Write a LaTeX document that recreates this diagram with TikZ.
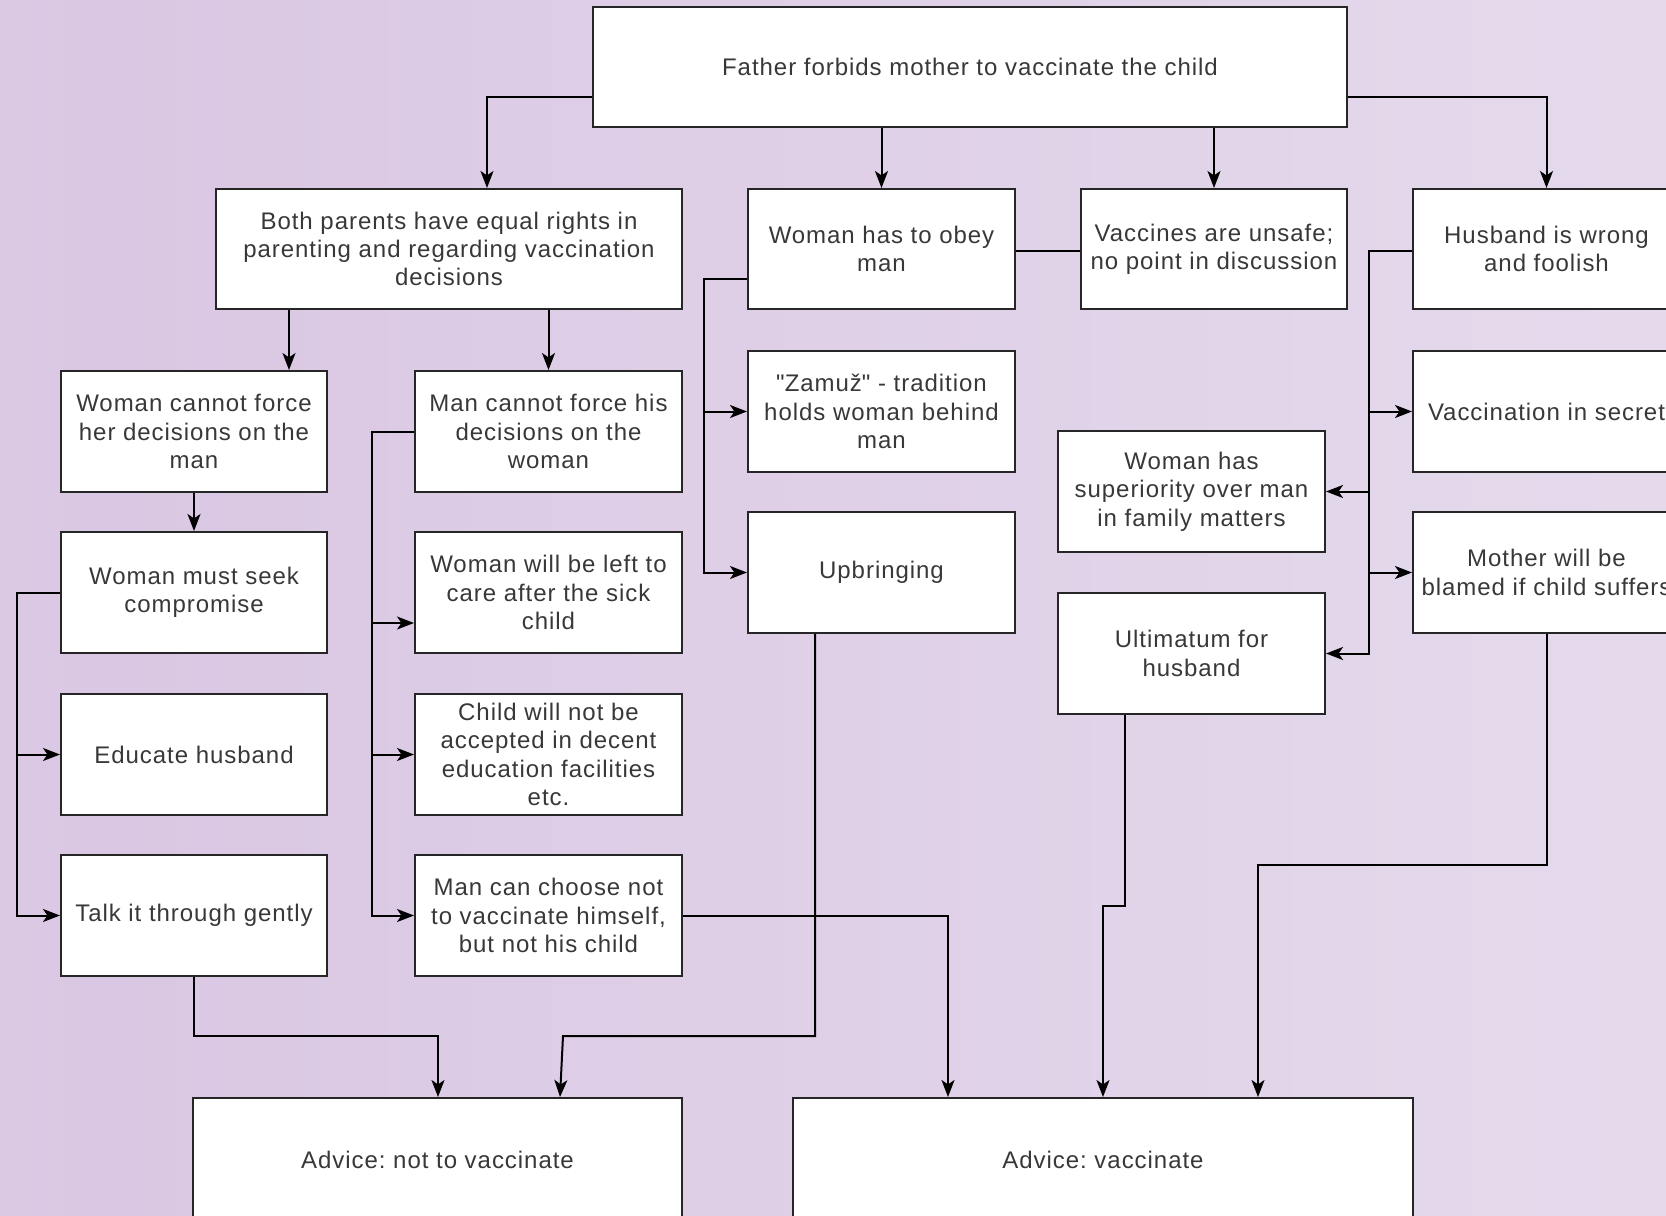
\documentclass[tikz,border=0pt]{standalone}
\usepackage{fontspec}
\setmainfont{Liberation Sans}[LetterSpace=4]
\newfontfamily\plainquote{Liberation Sans}[LetterSpace=4]
\usetikzlibrary{arrows.meta}
\definecolor{bgA}{HTML}{E7DCEE}
\definecolor{bgB}{HTML}{DAC7E3}
\definecolor{bgC}{HTML}{E1D4E9}
\definecolor{bgD}{HTML}{ECE4F2}
\definecolor{txt}{HTML}{383838}
\pgfdeclarehorizontalshading{bgshade}{100bp}{color(0bp)=(bgA); color(28bp)=(bgB); color(60bp)=(bgC); color(100bp)=(bgD)}
\newcommand\bx[6]{\node[box, minimum width={(#4-#2)*0.5pt}, minimum height={(#5-#3)*0.5pt}] (#1) at ({(#2+#4)/2},{(#3+#5)/2}) {#6};}
\begin{document}
\frenchspacing
\begin{tikzpicture}[x=0.5pt,y=-0.5pt,
  box/.style={draw=black!85, line width=1pt, fill=white, inner sep=0pt, align=center, text=txt,
    font=\fontsize{12pt}{14.2pt}\selectfont},
  arr/.style={line width=1pt, -{Stealth[length=8.5pt,width=6.5pt,inset=2.2pt]}},
  ln/.style={line width=1pt}]
\useasboundingbox (0,0) rectangle (1666,1216);
\clip (0,0) rectangle (1666,1216);
\shade[shading=bgshade] (0,0) rectangle (1666,1216);

% nodes
\bx{top}{593}{7}{1347}{127}{Father forbids mother to vaccinate the child}
\bx{both}{216}{189}{682}{309}{Both parents have equal rights in\\parenting and regarding vaccination\\decisions}
\bx{obey}{748}{189}{1015}{309}{Woman has to obey\\man}
\bx{unsafe}{1081}{189}{1347}{309}{Vaccines are unsafe;\\no point in discussion}
\bx{husband}{1413}{189}{1680}{309}{Husband is wrong\\and foolish}
\bx{wcannot}{61}{371}{327}{492}{Woman cannot force\\her decisions on the\\man}
\bx{mcannot}{415}{371}{682}{492}{Man cannot force his\\decisions on the\\woman}
\bx{zamuz}{748}{351}{1015}{472}{{\plainquote"}Zamuž{\plainquote"} - tradition\\holds woman behind\\man}
\bx{secret}{1413}{351}{1680}{472}{Vaccination in secret}
\bx{superior}{1058}{431}{1325}{552}{Woman has\\superiority over man\\in family matters}
\bx{upbring}{748}{512}{1015}{633}{Upbringing}
\bx{blamed}{1413}{512}{1680}{633}{Mother will be\\blamed if child suffers}
\bx{seek}{61}{532}{327}{653}{Woman must seek\\compromise}
\bx{leftcare}{415}{532}{682}{653}{Woman will be left to\\care after the sick\\child}
\bx{ultimatum}{1058}{593}{1325}{714}{Ultimatum for\\husband}
\bx{educate}{61}{694}{327}{815}{Educate husband}
\bx{accepted}{415}{694}{682}{815}{Child will not be\\accepted in decent\\education facilities\\etc.}
\bx{talk}{61}{855}{327}{976}{Talk it through gently}
\bx{choose}{415}{855}{682}{976}{Man can choose not\\to vaccinate himself,\\but not his child}
\bx{advnot}{193}{1098}{682}{1222}{Advice: not to vaccinate}
\bx{advvac}{793}{1098}{1413}{1222}{Advice: vaccinate}

% connectors from the top box
\draw[arr] (top.west |- 0,97) -- (487,97) -- (both.north -| 487,0);
\draw[arr] (top.south -| obey.north) -- (obey.north);
\draw[arr] (top.south -| unsafe.north) -- (unsafe.north);
\draw[arr] (top.east |- 0,97) -- (husband.north |- 0,97) -- (husband.north);

% left branch
\draw[arr] (both.south -| 289,0) -- (wcannot.north -| 289,0);
\draw[arr] (both.south -| mcannot.north) -- (mcannot.north);
\draw[arr] (wcannot.south) -- (seek.north);
\draw[arr] (seek.west) -- (17,0 |- seek.west) -- (17,0 |- talk.west) -- (talk.west);
\draw[arr] (17,0 |- educate.west) -- (educate.west);
\draw[arr] (mcannot.west) -- (372,0 |- mcannot.west) -- (372,0 |- choose.west) -- (choose.west);
\draw[arr] (372,623) -- (leftcare.west |- 0,623);
\draw[arr] (372,0 |- accepted.west) -- (accepted.west);

% middle branch
\draw[arr] (obey.west |- 0,279) -- (704,279) -- (704,0 |- upbring.west) -- (upbring.west);
\draw[arr] (704,0 |- zamuz.west) -- (zamuz.west);
\draw[ln] (obey.east |- 0,251) -- (unsafe.west |- 0,251);

% right branch
\draw[arr] (husband.west |- 0,251) -- (1369,251) -- (1369,0 |- ultimatum.east) -- (ultimatum.east);
\draw[arr] (1369,0 |- superior.east) -- (superior.east);
\draw[arr] (1369,0 |- secret.west) -- (secret.west);
\draw[arr] (1369,0 |- blamed.west) -- (blamed.west);

% to the advice boxes
\draw[arr] (talk.south) -- (talk.south |- 0,1036) -- (438,1036) -- (advnot.north -| 438,0);
\draw[arr] (upbring.south -| 815,0) -- (815,1036) -- (563,1036) -- (advnot.north -| 560,0);
\draw[arr] (choose.east) -- (948,0 |- choose.east) -- (advvac.north -| 948,0);
\draw[arr] (ultimatum.south -| 1125,0) -- (1125,906) -- (1103,906) -- (advvac.north -| 1103,0);
\draw[arr] (blamed.south) -- (blamed.south |- 0,865) -- (1258,865) -- (advvac.north -| 1258,0);
\end{tikzpicture}
\end{document}
